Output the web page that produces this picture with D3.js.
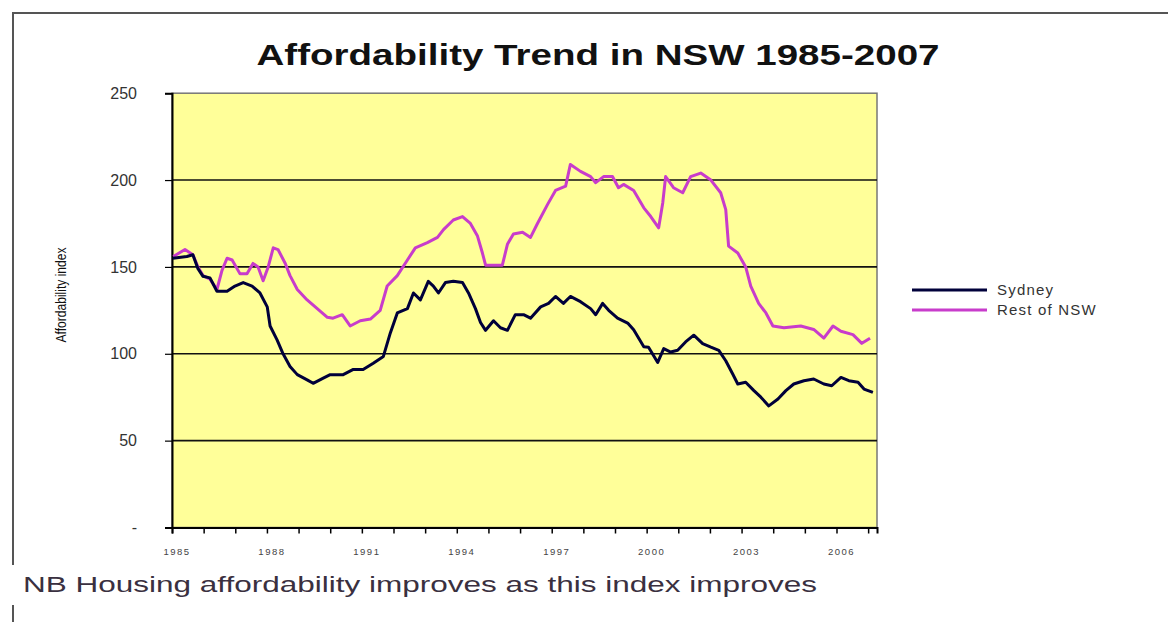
<!DOCTYPE html>
<html><head><meta charset="utf-8">
<script src="https://cdn.jsdelivr.net/npm/d3@7"></script>
<style>
html,body{margin:0;padding:0;background:#fff;}
svg{display:block;font-family:"Liberation Sans",Arial,sans-serif;}
</style></head>
<body>
<svg id="chart" width="1168" height="622"></svg>
<script>
// ---- data ----
const titleText = "Affordability Trend in NSW 1985-2007";
const yAxisTitle = "Affordability index";
const noteText = "NB Housing affordability improves as this index improves";
const seriesNames = ["Sydney", "Rest of NSW"];
const yTicks = [0, 50, 100, 150, 200, 250];
const yTickLabels = ["-", "50", "100", "150", "200", "250"];
const xTickYears = d3.range(1985, 2008);
const xLabelYears = [1985, 1988, 1991, 1994, 1997, 2000, 2003, 2006];

const sydneyYears = [1985.03,1985.47,1985.66,1985.82,1985.98,1986.20,1986.42,1986.74,1986.99,1987.25,1987.53,1987.78,1988.01,1988.10,1988.32,1988.51,1988.73,1988.96,1989.27,1989.46,1989.78,1990.00,1990.41,1990.73,1991.04,1991.36,1991.68,1991.90,1992.12,1992.44,1992.63,1992.85,1993.10,1993.26,1993.42,1993.64,1993.89,1994.18,1994.37,1994.59,1994.75,1994.91,1995.16,1995.38,1995.60,1995.85,1996.11,1996.33,1996.65,1996.90,1997.12,1997.37,1997.59,1997.91,1998.23,1998.39,1998.61,1998.80,1999.08,1999.40,1999.59,1999.91,2000.06,2000.35,2000.54,2000.76,2000.98,2001.23,2001.49,2001.77,2002.03,2002.28,2002.50,2002.72,2002.88,2003.13,2003.39,2003.61,2003.86,2004.15,2004.40,2004.65,2004.97,2005.28,2005.60,2005.85,2006.14,2006.39,2006.68,2006.87,2007.15];
const sydneyValues = [155,156,157,149,144.6,143.7,136,136,139,141,139,135,127,116,108,100,92.7,88,85,83,86,88,88,91,91,94.6,98.5,112,123.5,126,135,131,141.7,139,135,141,141.7,141,135,126,118,113.5,119,115,113.5,122.5,122.5,120.5,127,129,133,129,133,130,126,122.5,129,125,120.5,117.7,113.8,104,103.8,95,103,101,102,106.8,110.7,105.8,103.8,102,96,88.4,82.6,83.6,78.8,75,70,74,78.8,82.6,84.5,85.5,82.6,81.6,86.4,84.5,83.6,79.7,77.8];

const nswYears = [1985.04,1985.41,1985.66,1985.82,1985.98,1986.20,1986.42,1986.58,1986.74,1986.90,1987.15,1987.37,1987.56,1987.72,1987.88,1988.04,1988.20,1988.35,1988.58,1988.73,1988.96,1989.27,1989.59,1989.91,1990.09,1990.38,1990.63,1990.95,1991.27,1991.58,1991.80,1992.12,1992.44,1992.69,1993.07,1993.39,1993.58,1993.89,1994.18,1994.43,1994.65,1994.81,1994.91,1995.16,1995.44,1995.60,1995.79,1996.08,1996.33,1996.55,1996.87,1997.12,1997.44,1997.59,1997.91,1998.23,1998.39,1998.64,1998.92,1999.11,1999.27,1999.59,1999.91,2000.13,2000.38,2000.51,2000.60,2000.85,2001.14,2001.39,2001.71,2002.03,2002.34,2002.50,2002.59,2002.88,2003.13,2003.29,2003.54,2003.77,2003.99,2004.34,2004.87,2005.28,2005.60,2005.89,2006.14,2006.52,2006.80,2007.06];
const nswValues = [156,160,157,150,145,143,137,148,155,154,146,146,152,150,142,150,161,160,152,145,137,131,126,121,120.5,122.5,116,119,120,125,139,145,154,161,164,167,171.5,177,179,175,168,158,151,151,151,163,169,170,167,175,186,194,196.5,209,205,202,198.5,202,202,195.6,197.5,194,184,179,172.5,187,202,195.6,192.7,202,204,200,192.7,183,162,158,150,139,129,123.5,116,115,116,114,109,116,113,111,106,109];

const seriesColors = ["#00003a", "#c83ccb"];

// ---- drawing ----
const svg = d3.select("#chart");
const x = d3.scaleLinear().domain([1985, 2007.28]).range([172, 877]);
const y = d3.scaleLinear().domain([0, 250]).range([527.5, 93.2]);

// outer chart border
svg.append("path").attr("d", "M13,565 L13,13 L1168,13").attr("fill","none").attr("stroke","#555").attr("stroke-width",2);
svg.append("line").attr("x1",13).attr("x2",13).attr("y1",605).attr("y2",622).attr("stroke","#555").attr("stroke-width",2);

// plot background
svg.append("rect").attr("x", x(1985)).attr("y", y(250)).attr("width", x.range()[1]-x(1985)).attr("height", y(0)-y(250))
  .attr("fill", "#ffff99").attr("stroke", "#777").attr("stroke-width", 1.5);

// gridlines
svg.append("g").selectAll("line").data(yTicks.filter(d => d > 0 && d < 250)).join("line")
  .attr("x1", x(1985)).attr("x2", x.range()[1]).attr("y1", d => y(d)).attr("y2", d => y(d))
  .attr("stroke", "#111").attr("stroke-width", 1.6);

// y axis
const yAxis = d3.axisLeft(y).tickValues(yTicks).tickSize(7).tickFormat((d,i) => yTickLabels[i]);
const gy = svg.append("g").attr("transform", `translate(${x(1985)},0)`).call(yAxis);
gy.select(".domain").attr("stroke","#000").attr("stroke-width",2);
gy.selectAll(".tick line").attr("stroke","#000").attr("stroke-width",1.2);
gy.selectAll(".tick text").attr("x", -35).attr("font-size", 16).attr("fill", "#333")
  .attr("font-family", "'Liberation Sans', Arial, sans-serif");

// x axis
const xAxis = d3.axisBottom(x).tickValues(xTickYears).tickSize(6).tickFormat("");
const gx = svg.append("g").attr("transform", `translate(0,${y(0)})`).call(xAxis);
gx.select(".domain").attr("stroke","#000").attr("stroke-width",2);
gx.selectAll(".tick line").attr("stroke","#000").attr("stroke-width",1.5);
svg.append("g").selectAll("text").data(xLabelYears).join("text")
  .attr("x", d => x(d) + 5).attr("y", 555).attr("text-anchor", "middle")
  .attr("font-size", 9.5).attr("fill", "#444").attr("letter-spacing", 1.5)
  .text(d => d);

// lines
const line = d3.line().x(d => x(d[0])).y(d => y(d[1]));
const nswData = nswYears.map((t,i) => [t, nswValues[i]]);
const sydData = sydneyYears.map((t,i) => [t, sydneyValues[i]]);
svg.append("path").datum(nswData).attr("d", line).attr("fill","none")
  .attr("stroke", seriesColors[1]).attr("stroke-width", 3).attr("stroke-linejoin","round");
svg.append("path").datum(sydData).attr("d", line).attr("fill","none")
  .attr("stroke", seriesColors[0]).attr("stroke-width", 3).attr("stroke-linejoin","round");

// title
svg.append("text").attr("x", 598).attr("y", 65).attr("text-anchor","middle")
  .attr("font-size", 29).attr("font-weight","bold").attr("fill","#111")
  .attr("textLength", 683).attr("lengthAdjust","spacingAndGlyphs")
  .text(titleText);

// y axis title
svg.append("text").attr("transform", "translate(66,295) rotate(-90)").attr("text-anchor","middle")
  .attr("font-size", 14).attr("fill","#111")
  .attr("textLength", 95).attr("lengthAdjust","spacingAndGlyphs")
  .text(yAxisTitle);

// legend
const leg = svg.append("g").selectAll("g").data(seriesNames).join("g")
  .attr("transform", (d,i) => `translate(912,${290 + i*20})`);
leg.append("line").attr("x1",0).attr("x2",75).attr("y1",0).attr("y2",0)
  .attr("stroke", (d,i) => seriesColors[i]).attr("stroke-width", 3);
leg.append("text").attr("x", 85).attr("y", 5).attr("font-size", 15).attr("fill","#333")
  .attr("letter-spacing", 1.2).text(d => d);

// note
svg.append("rect").attr("x", 6).attr("y", 565).attr("width", 830).attr("height", 40).attr("fill","#fff");
svg.append("text").attr("x", 23).attr("y", 592).attr("font-size", 22).attr("fill","#3a3040")
  .attr("textLength", 794).attr("lengthAdjust","spacingAndGlyphs")
  .text(noteText);
</script>
</body></html>
